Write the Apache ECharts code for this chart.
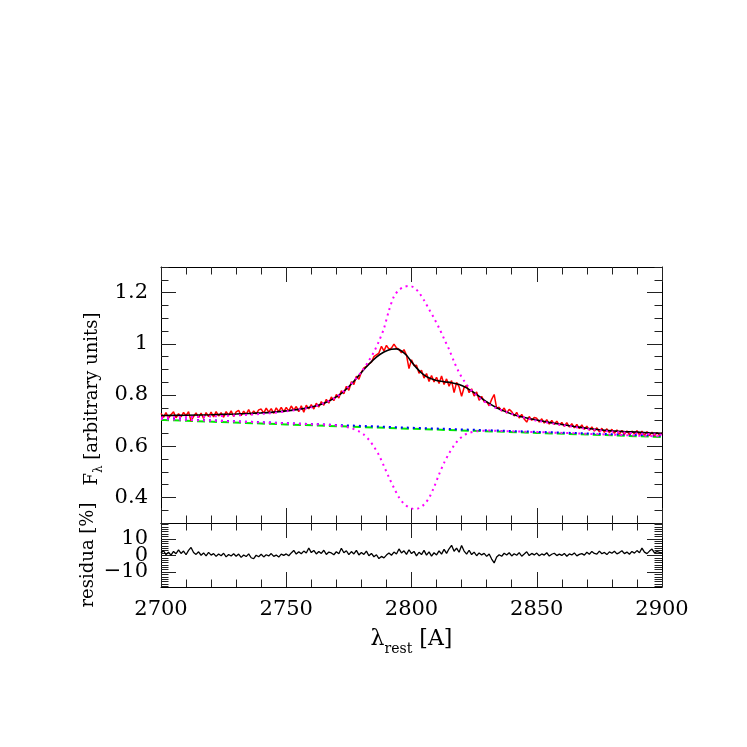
<!DOCTYPE html>
<html><head><meta charset="utf-8">
<script src="https://cdn.jsdelivr.net/npm/echarts@6/dist/echarts.min.js"></script>
<style>html,body{margin:0;padding:0;background:#fff}#c{width:747px;height:747px}</style>
</head><body><div id="c"></div>
<script>
// ---- data ----
const wlStart = 2700, wlStep = 1;
const redFlux = [
.728,.713,.731,.710,.724,.734,.711,.727,.715,.732,
.719,.735,.698,.716,.730,.712,.729,.708,.731,.716,
.733,.714,.735,.718,.731,.713,.735,.720,.738,.716,
.734,.740,.719,.737,.724,.743,.722,.738,.726,.742,
.745,.729,.749,.733,.747,.728,.750,.735,.752,.734,
.752,.737,.757,.741,.755,.735,.758,.733,.760,.746,
.762,.745,.768,.753,.774,.760,.783,.768,.792,.778,
.802,.788,.817,.805,.834,.818,.852,.841,.873,.862,
.889,.906,.912,.922,.928,.950,.957,.964,.990,.972,
.994,.979,.983,.999,.984,.978,.965,.977,.956,.903,
.938,.914,.916,.885,.897,.866,.884,.853,.876,.851,
.869,.845,.874,.841,.863,.834,.856,.809,.849,.832,
.795,.829,.838,.809,.824,.796,.812,.779,.795,.774,
.774,.758,.783,.802,.748,.752,.737,.749,.729,.744,
.735,.718,.732,.710,.724,.706,.694,.716,.701,.712,
.709,.694,.707,.690,.704,.686,.701,.685,.698,.682,
.693,.678,.692,.675,.688,.672,.685,.669,.683,.666,
.678,.662,.675,.659,.672,.656,.670,.654,.668,.653,
.666,.650,.664,.647,.662,.646,.660,.645,.659,.648,
.661,.644,.659,.642,.657,.641,.655,.640,.654,.643,
.652];
const residual = [
1.5,2.8,0.5,1.9,0.2,2.4,1.0,3.3,1.2,2.6,
0.4,3.0,4.8,1.8,0.6,2.2,0.1,1.5,-0.3,1.8,
0.2,1.1,-0.6,0.9,-0.2,1.3,-0.9,0.6,-0.4,1.0,
-0.5,0.8,-1.2,0.3,-0.7,0.9,-1.4,-2.0,0.1,-0.8,
0.7,-0.9,0.4,-0.3,1.1,-0.6,0.2,-1.0,0.8,0.0,
0.9,-0.2,1.5,3.0,0.8,2.2,1.0,2.6,1.4,4.5,
1.7,3.0,0.9,2.4,1.2,3.1,0.6,2.0,1.5,0.4,
2.2,1.0,4.3,1.6,2.8,0.5,2.3,0.9,3.0,0.3,
1.8,0.6,2.6,-0.2,1.2,-0.8,0.4,-1.9,-0.6,-1.5,
0.2,1.4,0.1,2.0,0.8,3.9,1.5,2.8,0.6,3.4,
1.1,2.4,-0.3,1.9,0.5,3.0,0.2,2.1,-0.4,1.6,
0.3,2.7,0.8,3.6,1.2,4.0,6.1,2.5,4.4,1.9,
6.0,2.6,0.8,3.1,0.5,2.0,-0.2,1.5,0.3,1.2,
-0.6,0.9,-2.2,-4.5,-1.0,0.4,-0.5,1.3,0.2,1.6,
-0.3,1.0,0.1,1.7,-0.5,0.8,2.2,-0.1,1.2,0.3,
1.4,-0.2,0.9,0.2,1.6,-0.4,0.7,1.3,-0.1,0.8,
0.0,1.2,-0.5,0.9,0.3,1.5,-0.3,0.6,1.1,0.2,
1.9,0.7,2.4,1.2,0.8,2.6,1.0,1.8,0.5,2.1,
1.3,2.5,0.9,1.7,2.8,1.1,2.0,0.7,2.4,1.4,
2.9,1.6,4.4,2.0,1.1,2.6,3.8,1.5,2.3,1.8,
1.5];
const fitWl = [2700,2710,2720,2730,2740,2745,2750,2755,2760,2764,2768,2772,2776,2780,2783,2786,2789,2792,2794,2796,2798,2800,2802,2804,2806,2808,2810,2813,2816,2819,2822,2825,2828,2831,2834,2837,2840,2843,2846,2850,2855,2860,2865,2870,2875,2880,2885,2890,2895,2900];
const fitFlux = [.720,.721,.723,.726,.730,.733,.738,.744,.753,.764,.781,.806,.843,.888,.920,.948,.968,.979,.980,.972,.955,.930,.906,.886,.872,.863,.857,.852,.848,.841,.828,.809,.787,.767,.750,.737,.726,.717,.710,.702,.693,.685,.677,.670,.664,.660,.657,.655,.652,.650];
const broadWl = [2700,2720,2740,2750,2760,2765,2770,2775,2780,2783,2785,2787,2789,2791,2793,2795,2797,2799,2801,2803,2805,2807,2809,2811,2813,2815,2817,2819,2821,2823,2825,2828,2831,2834,2838,2842,2846,2850,2860,2870,2880,2890,2900];
const broadFlux = [.712,.716,.726,.736,.752,.768,.792,.834,.890,.935,.968,1.010,1.060,1.130,1.185,1.210,1.222,1.226,1.220,1.200,1.170,1.135,1.100,1.062,1.020,.978,.930,.888,.855,.828,.808,.782,.763,.748,.733,.720,.709,.700,.683,.668,.657,.650,.645];
const absWl = [2700,2720,2740,2760,2768,2772,2776,2779,2781,2783,2785,2787,2789,2791,2793,2795,2797,2799,2801,2803,2805,2807,2809,2811,2813,2815,2817,2819,2821,2823,2826,2830,2840,2860,2880,2900];
const absFlux = [.706,.700,.693,.686,.683,.679,.670,.658,.645,.625,.598,.565,.522,.478,.437,.400,.375,.361,.355,.358,.372,.398,.440,.490,.535,.572,.603,.627,.643,.652,.658,.661,.658,.652,.645,.638];
const contWl = [2700,2750,2800,2850,2900];
const contBlue = [.708,.690,.672,.656,.641];
const contGreen = [.703,.685,.668,.652,.636];
const yMainTicks = [0.4,0.6,0.8,1,1.2];
const yResTicks = [-10,0,10];
const yResOuterLabels = [-10,10];
const yResInnerLabels = [0];
const xTicks = [2700,2750,2800,2850,2900];

// ---- build ----
const zip = (a,b) => a.map((v,i)=>[v,b[i]]);
const redPts = redFlux.map((v,i)=>[wlStart+i*wlStep, v]);
const resPts = residual.map((v,i)=>[wlStart+i*wlStep, v]);

const FONT = 'DejaVu Serif';
const TICK = {color:'#222', width:1};
function xAx(grid, pos, labels){
  return {type:'value', gridIndex:grid, position:pos, min:xTicks[0], max:xTicks[xTicks.length-1], interval:50,
    axisLine:{show:true, onZero:false, lineStyle:{color:'#000', width:1}},
    axisTick:{show:true, inside:true, length:15, lineStyle:TICK},
    minorTick:{show:true, splitNumber:5, length:7.5, lineStyle:TICK},
    splitLine:{show:false}, minorSplitLine:{show:false},
    axisLabel:{show:labels, margin:12, fontFamily:FONT, fontSize:21, color:'#000', formatter:v=>String(v)}};
}
function labelCfg(show, vals, fmt){
  return {show:show, customValues:vals, hideOverlap:false, showMinLabel:true, showMaxLabel:true,
      margin:13, padding:[5,0,0,0], fontFamily:FONT, fontSize:21, color:'#000', formatter:fmt};
}
function yMajor(grid, pos, min, max, ticks, labels, labelVals, fmt){
  return {type:'value', gridIndex:grid, position:pos, min:min, max:max,
    axisLine:{show:true, onZero:false, lineStyle:{color:'#000', width:1}},
    axisTick:{show:true, inside:true, length:15, lineStyle:TICK, customValues:ticks},
    splitLine:{show:false},
    axisLabel:labelCfg(labels, labelVals, fmt)};
}
function yMinor(grid, pos, min, max, ticks, labelVals, fmt){
  return {type:'value', gridIndex:grid, position:pos, min:min, max:max,
    axisLine:{show:false, onZero:false},
    axisTick:{show:true, inside:true, length:7.5, lineStyle:TICK, customValues:ticks},
    splitLine:{show:false}, axisLabel: labelVals ? labelCfg(true, labelVals, fmt) : {show:false}};
}
const mainMinor = []; for(let k=6;k<=26;k++) mainMinor.push(+(k*0.05).toFixed(2));
const resMinor = []; for(let k=-13;k<=13;k++) resMinor.push(+(k*10/7).toFixed(3));
const fmtMain = v => String(+(+v).toFixed(2));
const fmtRes = v => String(v).replace('-', '\u2212');
const RMIN = -19, RMAX = 19.5;

const option = {
  backgroundColor:'#fff', animation:false,
  grid:[{left:161, top:267, width:501, height:256, outerBoundsMode:'none'},
        {left:161, top:523, width:501, height:64, outerBoundsMode:'none'}],
  xAxis:[xAx(0,'bottom',false), xAx(0,'top',false), xAx(1,'bottom',true), xAx(1,'top',false)],
  yAxis:[
    yMajor(0,'left',0.3,1.3,yMainTicks,true,yMainTicks,fmtMain), yMinor(0,'left',0.3,1.3,mainMinor),
    yMajor(0,'right',0.3,1.3,yMainTicks,false,yMainTicks,fmtMain), yMinor(0,'right',0.3,1.3,mainMinor),
    yMajor(1,'left',RMIN,RMAX,yResTicks,true,yResOuterLabels,fmtRes), yMinor(1,'left',RMIN,RMAX,resMinor,yResInnerLabels,fmtRes),
    yMajor(1,'right',RMIN,RMAX,yResTicks,false,yResOuterLabels,fmtRes), yMinor(1,'right',RMIN,RMAX,resMinor)
  ],
  series:[
    {type:'line', xAxisIndex:0, yAxisIndex:0, data:zip(contWl,contGreen), showSymbol:false, silent:true,
      lineStyle:{color:'#00ee00', width:2, type:[8,4]}},
    {type:'line', xAxisIndex:0, yAxisIndex:0, data:zip(contWl,contBlue), showSymbol:false, silent:true,
      lineStyle:{color:'#0000ff', width:2, type:[2,4]}},
    {type:'line', xAxisIndex:0, yAxisIndex:0, data:redPts, showSymbol:false, silent:true,
      lineStyle:{color:'#ff0000', width:1.5}},
    {type:'line', xAxisIndex:0, yAxisIndex:0, data:zip(fitWl,fitFlux), smooth:0.3, showSymbol:false, silent:true,
      lineStyle:{color:'#000', width:1.6}},
    {type:'line', xAxisIndex:0, yAxisIndex:0, data:zip(broadWl,broadFlux), smooth:0.3, showSymbol:false, silent:true,
      lineStyle:{color:'#ff00ff', width:2, type:[2,4]}},
    {type:'line', xAxisIndex:0, yAxisIndex:0, data:zip(absWl,absFlux), smooth:0.3, showSymbol:false, silent:true,
      lineStyle:{color:'#ff00ff', width:2, type:[2,4]}},
    {type:'line', xAxisIndex:2, yAxisIndex:4, data:resPts, showSymbol:false, silent:true,
      lineStyle:{color:'#000', width:1.3}}
  ],
  graphic:[
    {type:'text', x:411.5, y:642, style:{text:'{l|λ}{s|rest}{n| [A]}', align:'center', verticalAlign:'middle',
      rich:{l:{fontFamily:FONT, fontSize:22, fill:'#000', padding:[0,0,6,0], verticalAlign:'bottom'},
            s:{fontFamily:FONT, fontSize:14, fill:'#000', verticalAlign:'bottom'},
            n:{fontFamily:FONT, fontSize:22, fill:'#000', padding:[0,0,6,0], verticalAlign:'bottom'}}}},
    {type:'text', x:94, y:399, rotation:Math.PI/2, style:{text:'{n|F}{s|λ}{n| [arbitrary units]}', align:'center', verticalAlign:'middle',
      rich:{n:{fontFamily:FONT, fontSize:18, fill:'#000', padding:[0,0,4,0], verticalAlign:'bottom'},
            s:{fontFamily:FONT, fontSize:12, fill:'#000', verticalAlign:'bottom'}}}},
    {type:'text', x:88, y:555, rotation:Math.PI/2, style:{text:'residua [%]', align:'center', verticalAlign:'middle',
      fontFamily:FONT, fontSize:18, fill:'#000'}}
  ]
};
const chart = echarts.init(document.getElementById('c'), null, {renderer:'canvas'});
chart.setOption(option);
</script></body></html>
